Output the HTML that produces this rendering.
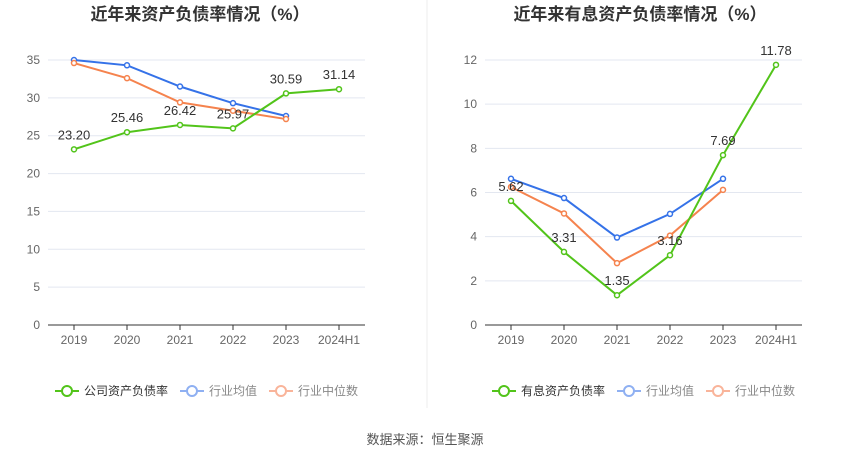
<!DOCTYPE html>
<html><head><meta charset="utf-8">
<style>
body{margin:0;background:#fff;font-family:"Liberation Sans","Noto Sans CJK SC",sans-serif;}
svg text{font-family:"Liberation Sans","Noto Sans CJK SC",sans-serif;}
</style></head>
<body>
<svg id="c" width="850" height="459" xmlns="http://www.w3.org/2000/svg">
<line x1="427" y1="0" x2="427" y2="408" stroke="#eee"/>
<text x="425" y="444" font-size="13" fill="#555" text-anchor="middle">数据来源：恒生聚源</text>
</svg>
<script>
const years = ["2019","2020","2021","2022","2023","2024H1"];
const leftCompany = [23.20,25.46,26.42,25.97,30.59,31.14];
const leftAvg = [35.0,34.3,31.5,29.3,27.6];
const leftMed = [34.6,32.6,29.4,28.3,27.2];
const leftTicks = [0,5,10,15,20,25,30,35];
const rightCompany = [5.62,3.31,1.35,3.16,7.69,11.78];
const rightAvg = [6.62,5.75,3.96,5.03,6.62];
const rightMed = [6.25,5.05,2.8,4.05,6.12];
const rightTicks = [0,2,4,6,8,10,12];
const svg=document.getElementById('c');const NS='http://www.w3.org/2000/svg';
function mk(t,a,txt){const e=document.createElementNS(NS,t);for(const k in a)e.setAttribute(k,a[k]);if(txt!=null)e.textContent=txt;svg.appendChild(e);return e;}
function chart(p,title,ticks,max,comp,avg,med,compName){
  const y0=325,y1=60,x0=p.x0,step=53;
  const X=i=>x0+i*step, Y=v=>y0-(v/max)*(y0-y1);
  let e=mk('text',{x:p.cx,y:20,'font-size':17,'font-weight':'bold',fill:'#333','text-anchor':'middle'},title);
  
  
  ticks.forEach(t=>{
    if(t>0){e=mk('line',{x1:p.ax0,x2:p.ax1,y1:Y(t),y2:Y(t),stroke:'#e3e7f0'});
    
    }
    e=mk('text',{x:p.ax0-8,y:Y(t)+4,'font-size':12,fill:'#666','text-anchor':'end'},t);
    
    
  });
  e=mk('line',{x1:p.ax0,x2:p.ax1,y1:y0,y2:y0,stroke:'#333'});
  
  
  years.forEach((y,i)=>{
    e=mk('line',{x1:X(i),x2:X(i),y1:y0,y2:y0+5,stroke:'#333'});
    
    
    e=mk('text',{x:X(i),y:344,'font-size':12,fill:'#666','text-anchor':'middle'},y);
    
    
  });
  function series(vals,col,name){
    e=mk('polyline',{points:vals.map((v,i)=>X(i)+','+Y(v)).join(' '),fill:'none',stroke:col,'stroke-width':2});
    
    
    vals.forEach((v,i)=>{e=mk('circle',{cx:X(i),cy:Y(v),r:2.5,fill:'#fff',stroke:col,'stroke-width':1.5});
    
    });
  }
  series(avg,'#3572e8','industry-average');
  series(med,'#f5834e','industry-median');
  series(comp,'#52c41a','company');
  comp.forEach((v,i)=>{e=mk('text',{x:X(i),y:Y(v)-10,'font-size':13,fill:'#333','text-anchor':'middle'},v.toFixed(2));
    
    });
  const leg=[[compName,'#52c41a','#333'],['行业均值','#8fb0f2','#888'],['行业中位数','#f9b49a','#888']];
  let lx=p.lx;
  leg.forEach(([t,c,tc],k)=>{
    e=mk('line',{x1:lx,x2:lx+24,y1:391,y2:391,stroke:c,'stroke-width':2});
    
    
    e=mk('circle',{cx:lx+12,cy:391,r:5,fill:'#fff',stroke:c,'stroke-width':2});
    
    
    e=mk('text',{x:lx+29,y:395,'font-size':12,fill:tc},t);
    
    
    lx+=29+t.length*12+12;
  });
}
chart({x0:74,ax0:48,ax1:365,cx:200,lx:55},'近年来资产负债率情况（%）',leftTicks,35,leftCompany,leftAvg,leftMed,'公司资产负债率');
chart({x0:511,ax0:485,ax1:802,cx:640,lx:492},'近年来有息资产负债率情况（%）',rightTicks,12,rightCompany,rightAvg,rightMed,'有息资产负债率');
</script>
</body></html>
